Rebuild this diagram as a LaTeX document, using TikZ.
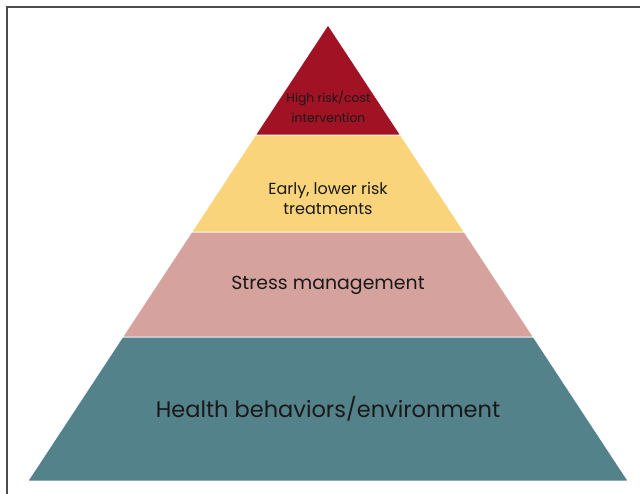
\documentclass[tikz,border=0pt]{standalone}
\usepackage{fontspec}
\setsansfont{Poppins}
\usetikzlibrary{positioning}

\definecolor{topred}{RGB}{161,18,37}
\definecolor{earlyyellow}{RGB}{249,212,122}
\definecolor{stresspink}{RGB}{213,162,157}
\definecolor{baseteal}{RGB}{83,130,138}

\begin{document}
\begin{tikzpicture}[x=1pt, y=1pt, font=\sffamily, text=black!90,
    layer/.style={draw=white, line width=0.7pt, line join=round}]
  \useasboundingbox (0,0) rectangle (640,494);
  \draw[black!70, line width=1.3pt] (7,0) -- (7,487) -- (641,487);
  % pyramid, bottom to top
  \filldraw[layer, fill=baseteal]    (28,13) -- (628,13) -- (533.3,157) -- (122.7,157) -- cycle;
  \filldraw[layer, fill=stresspink]  (122.7,157) -- (533.3,157) -- (464.2,262) -- (191.8,262) -- cycle;
  \filldraw[layer, fill=earlyyellow] (191.8,262) -- (464.2,262) -- (400.4,359) -- (255.6,359) -- cycle;
  \filldraw[layer, fill=topred]      (255.6,359) -- (400.4,359) -- (328,469) -- cycle;
  % labels
  \node[font=\sffamily\fontsize{22.5}{26}\selectfont] (health) at (328,85) {Health behaviors/environment};
  \node[font=\sffamily\fontsize{18.9}{22}\selectfont] (stress) at (328,209) {Stress management};
  \node[align=center, font=\sffamily\fontsize{16}{20}\selectfont] (early) at (328,296) {Early, lower risk\\treatments};
  \node[align=center, font=\sffamily\fontsize{12.4}{20}\selectfont] (high) at (328.5,387) {High risk/cost\\intervention};
\end{tikzpicture}
\end{document}
